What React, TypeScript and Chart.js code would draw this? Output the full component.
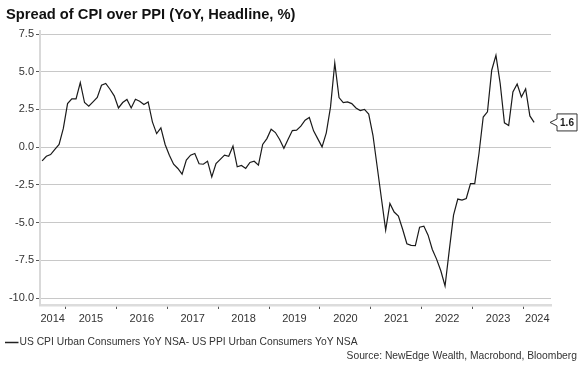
import React, { useEffect, useRef } from 'react';
import { Chart, registerables } from 'chart.js';

Chart.register(...registerables);

const TITLE = 'Spread of CPI over PPI (YoY, Headline, %)';
const SERIES_LABEL = 'US CPI Urban Consumers YoY NSA- US PPI Urban Consumers YoY NSA';
const SOURCE = 'Source: NewEdge Wealth, Macrobond, Bloomberg';

// Monthly observations, first one is July 2014
const FIRST_MONTH = '2014-07';
const spread = [
  -0.91, -0.6, -0.49, -0.15, 0.18, 1.24, 2.89, 3.2, 3.2, 4.28, 2.96, 2.72,
  3.0, 3.29, 4.1, 4.22, 3.84, 3.4, 2.6, 2.96, 3.16, 2.6, 3.18, 3.05,
  2.83, 3.0, 1.68, 0.9, 1.28, 0.18, -0.53, -1.13, -1.41, -1.79, -0.86, -0.53,
  -0.42, -1.1, -1.13, -0.93, -1.97, -1.08, -0.81, -0.53, -0.6, 0.07, -1.3, -1.21,
  -1.41, -1.01, -0.93, -1.19, 0.18, 0.57, 1.19, 0.97, 0.51, -0.07, 0.53, 1.1,
  1.13, 1.39, 1.79, 1.97, 1.08, 0.55, 0.02, 0.95, 2.67, 5.58, 3.29, 2.96,
  3.0, 2.89, 2.6, 2.43, 2.5, 2.19, 0.79, -1.3, -3.4, -5.5, -3.73, -4.3,
  -4.56, -5.44, -6.4, -6.51, -6.52, -5.3, -5.23, -5.83, -6.78, -7.42, -8.19, -9.2,
  -6.82, -4.5, -3.44, -3.51, -3.4, -2.41, -2.41, -0.42, 2.0, 2.34, 5.1, 6.09,
  4.22, 1.61, 1.44, 3.66, 4.19, 3.33, 3.86, 2.07, 1.64,
];

const yearLabels = ['2014', '2015', '2016', '2017', '2018', '2019', '2020', '2021', '2022', '2023', '2024'];
const yTickValues = [-10, -7.5, -5, -2.5, 0, 2.5, 5, 7.5];

const X_MIN = 2014.5;
const X_MAX = 2024.54;
const Y_MIN = -10.46;
const Y_MAX = 7.7;

const FONT = '"Liberation Sans", Arial, Helvetica, sans-serif';

function monthPos(i: number): number {
  const [y, m] = FIRST_MONTH.split('-').map(Number);
  return y + (m - 1 + i) / 12 + 1 / 24;
}

const decorPlugin = {
  id: 'decor',
  afterDraw(chart: any) {
    const ctx = chart.ctx as CanvasRenderingContext2D;
    ctx.save();
    // Title
    ctx.font = `bold 14.7px ${FONT}`;
    ctx.fillStyle = '#111111';
    ctx.textAlign = 'left';
    ctx.textBaseline = 'alphabetic';
    ctx.fillText(TITLE, 6, 19);

    // Legend
    ctx.strokeStyle = '#222222';
    ctx.lineWidth = 1.5;
    ctx.beginPath();
    ctx.moveTo(5, 342.5);
    ctx.lineTo(18.5, 342.5);
    ctx.stroke();
    ctx.font = `10.3px ${FONT}`;
    ctx.fillStyle = '#333333';
    ctx.textBaseline = 'middle';
    ctx.fillText(SERIES_LABEL, 19.5, 342.5);

    // Source
    ctx.textAlign = 'right';
    ctx.fillText(SOURCE, 577, 356.5);

    // Last-value callout
    const meta = chart.getDatasetMeta(0);
    const last = meta.data[meta.data.length - 1];
    if (last) {
      const y = last.y;
      const tip = chart.chartArea.right - 1;
      const bx = tip + 7;
      const w = 20;
      const h = 17;
      const top = y - h / 2;
      ctx.beginPath();
      ctx.moveTo(bx, top);
      ctx.lineTo(bx + w, top);
      ctx.lineTo(bx + w, top + h);
      ctx.lineTo(bx, top + h);
      ctx.lineTo(bx, y + 3.5);
      ctx.lineTo(tip, y);
      ctx.lineTo(bx, y - 3.5);
      ctx.closePath();
      ctx.fillStyle = '#ffffff';
      ctx.fill();
      ctx.strokeStyle = '#333333';
      ctx.lineWidth = 1;
      ctx.stroke();
      ctx.font = `bold 10px ${FONT}`;
      ctx.fillStyle = '#1c1c1c';
      ctx.textAlign = 'center';
      ctx.textBaseline = 'middle';
      ctx.fillText(spread[spread.length - 1].toFixed(1), bx + w / 2, y + 0.5);
    }
    ctx.restore();
  },
};

export default function App() {
  const canvasRef = useRef<HTMLCanvasElement | null>(null);

  useEffect(() => {
    document.body.style.margin = '0';
    const canvas = canvasRef.current;
    if (!canvas) return;

    const points = spread.map((v, i) => ({ x: monthPos(i), y: v }));
    const boundaries = yearLabels.map(Number).filter((y) => y > X_MIN && y < X_MAX);
    const labelPos = yearLabels.map((s) => {
      const y = Number(s);
      return (Math.max(y, X_MIN) + Math.min(y + 1, X_MAX)) / 2;
    });

    const chart = new Chart(canvas, {
      type: 'line',
      data: {
        datasets: [
          {
            label: SERIES_LABEL,
            data: points,
            borderColor: '#1a1a1a',
            borderWidth: 1.2,
            pointRadius: 0,
            tension: 0,
            fill: false,
          },
        ],
      },
      options: {
        responsive: false,
        animation: false,
        devicePixelRatio: 1,
        layout: { padding: { top: 31, left: 0, right: 33, bottom: 35 } },
        plugins: {
          legend: { display: false },
          title: { display: false },
          tooltip: { enabled: false },
        },
        scales: {
          x: {
            type: 'linear',
            min: X_MIN,
            max: X_MAX,
            afterBuildTicks: (scale: any) => {
              const vals = [...boundaries, ...labelPos].sort((a, b) => a - b);
              scale.ticks = vals.map((v) => ({ value: v }));
            },
            afterFit: (scale: any) => {
              scale.height = 30;
            },
            ticks: {
              autoSkip: false,
              maxRotation: 0,
              minRotation: 0,
              padding: 3,
              color: '#333333',
              font: { family: FONT, size: 11 },
              callback: (value: any) => {
                const v = Number(value);
                return Number.isInteger(v) ? '' : String(Math.floor(v));
              },
            },
            grid: {
              drawOnChartArea: false,
              drawTicks: true,
              tickLength: 4,
              color: (ctx: any) => (ctx.tick && Number.isInteger(ctx.tick.value) ? '#555555' : 'rgba(0,0,0,0)'),
              tickColor: (ctx: any) => (ctx.tick && Number.isInteger(ctx.tick.value) ? '#555555' : 'rgba(0,0,0,0)'),
            },
            border: { display: true, color: '#dcdcdc', width: 2.5 },
          },
          y: {
            type: 'linear',
            min: Y_MIN,
            max: Y_MAX,
            afterBuildTicks: (scale: any) => {
              scale.ticks = yTickValues.map((v) => ({ value: v }));
            },
            afterFit: (scale: any) => {
              scale.width = 40;
            },
            ticks: {
              padding: 2,
              color: '#333333',
              font: { family: FONT, size: 11 },
              callback: (value: any) => Number(value).toFixed(1),
            },
            grid: {
              color: '#c8c8c8',
              lineWidth: 1,
              tickLength: 4,
              tickColor: '#555555',
            },
            border: { display: true, color: '#d9d9d9', width: 2 },
          },
        },
      },
      plugins: [decorPlugin],
    });

    return () => {
      chart.destroy();
    };
  }, []);

  return (
    <div style={{ width: 584, height: 370, position: 'relative', background: '#ffffff' }}>
      <canvas ref={canvasRef} width={584} height={370} style={{ display: 'block' }} />
    </div>
  );
}
